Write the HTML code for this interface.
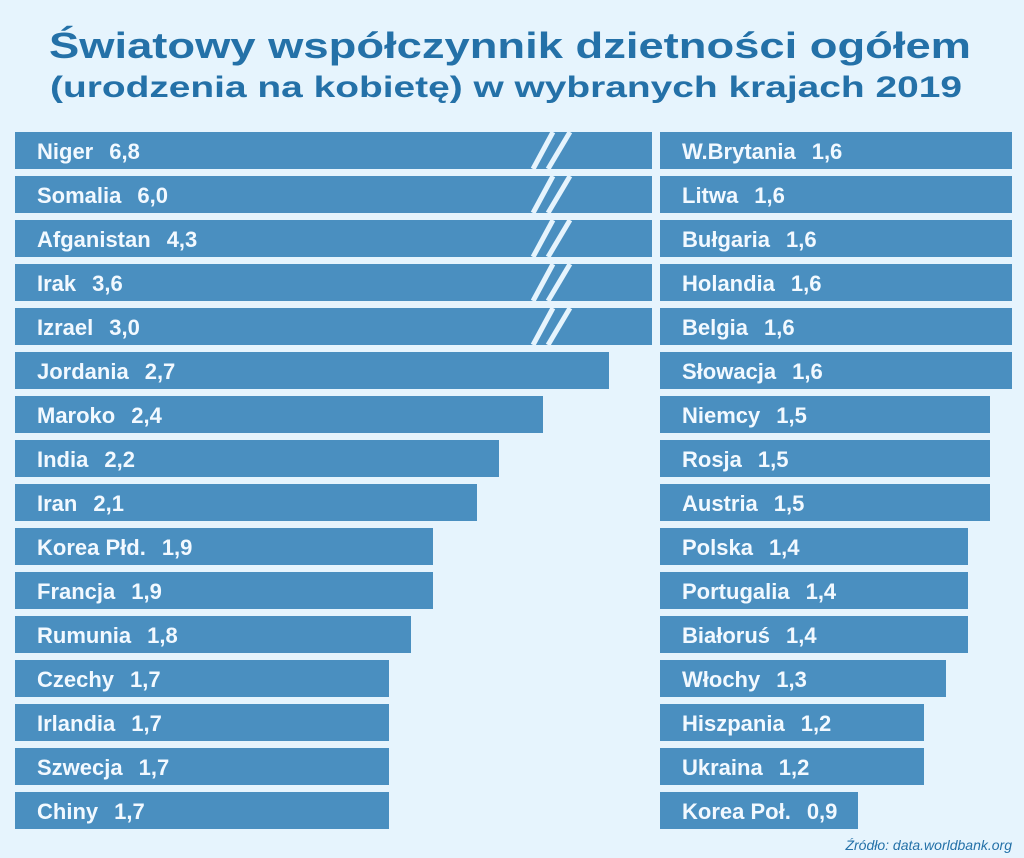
<!DOCTYPE html>
<html><head><meta charset="utf-8"><style>
body{margin:0;background:#e6f4fd;}
svg{display:block;font-family:"Liberation Sans",sans-serif;}
</style></head><body>
<svg width="1024" height="858" viewBox="0 0 1024 858">
<rect width="1024" height="858" fill="#e6f4fd"/>
<text x="510" y="58" text-anchor="middle" font-size="36" font-weight="bold" fill="#2471a8" textLength="922" lengthAdjust="spacingAndGlyphs">Światowy współczynnik dzietności ogółem</text>
<text x="506" y="97" text-anchor="middle" font-size="30" font-weight="bold" fill="#2471a8" textLength="912" lengthAdjust="spacingAndGlyphs">(urodzenia na kobietę) w wybranych krajach 2019</text>
<g id="bars"></g>
<text x="1012" y="850" text-anchor="end" font-size="14" font-style="italic" fill="#2471a8">Źródło: data.worldbank.org</text>
</svg>
<script>
const leftCountries=["Niger","Somalia","Afganistan","Irak","Izrael","Jordania","Maroko","India","Iran","Korea Płd.","Francja","Rumunia","Czechy","Irlandia","Szwecja","Chiny"];
const leftValues=[6.8,6.0,4.3,3.6,3.0,2.7,2.4,2.2,2.1,1.9,1.9,1.8,1.7,1.7,1.7,1.7];
const rightCountries=["W.Brytania","Litwa","Bułgaria","Holandia","Belgia","Słowacja","Niemcy","Rosja","Austria","Polska","Portugalia","Białoruś","Włochy","Hiszpania","Ukraina","Korea Poł."];
const rightValues=[1.6,1.6,1.6,1.6,1.6,1.6,1.5,1.5,1.5,1.4,1.4,1.4,1.3,1.2,1.2,0.9];
const NS="http://www.w3.org/2000/svg";
const g=document.getElementById('bars');
const maxW=637, unit=220;
function x(v){return Math.min(v*unit,maxW);}
function y(i){return 132+i*44;}
function mk(t,a){const e=document.createElementNS(NS,t);for(const k in a)e.setAttribute(k,a[k]);g.appendChild(e);return e;}
function draw(cats,vals,x0,side){
  cats.forEach((c,i)=>{
    const r=mk('rect',{x:x0,y:y(i),width:x(vals[i]),height:37,fill:'#4a8fc0'});
    
    
    if(vals[i]*unit>maxW+1){
      [[533,553],[548,570]].forEach(p=>{
        const l=mk('line',{x1:p[0],y1:y(i)+37,x2:p[1],y2:y(i),stroke:'#e6f4fd','stroke-width':5});
        
        
      });
    }
    const t=mk('text',{x:x0+22,y:y(i)+27,'font-size':22,'font-weight':'bold',fill:'#f2f9ff'});
    
    
    const a=document.createElementNS(NS,'tspan');a.textContent=c;t.appendChild(a);
    const b=document.createElementNS(NS,'tspan');b.setAttribute('dx','16');b.textContent=vals[i].toFixed(1).replace('.',',');t.appendChild(b);
  });
}
draw(leftCountries,leftValues,15,'left');
draw(rightCountries,rightValues,660,'right');
</script>
</body></html>
